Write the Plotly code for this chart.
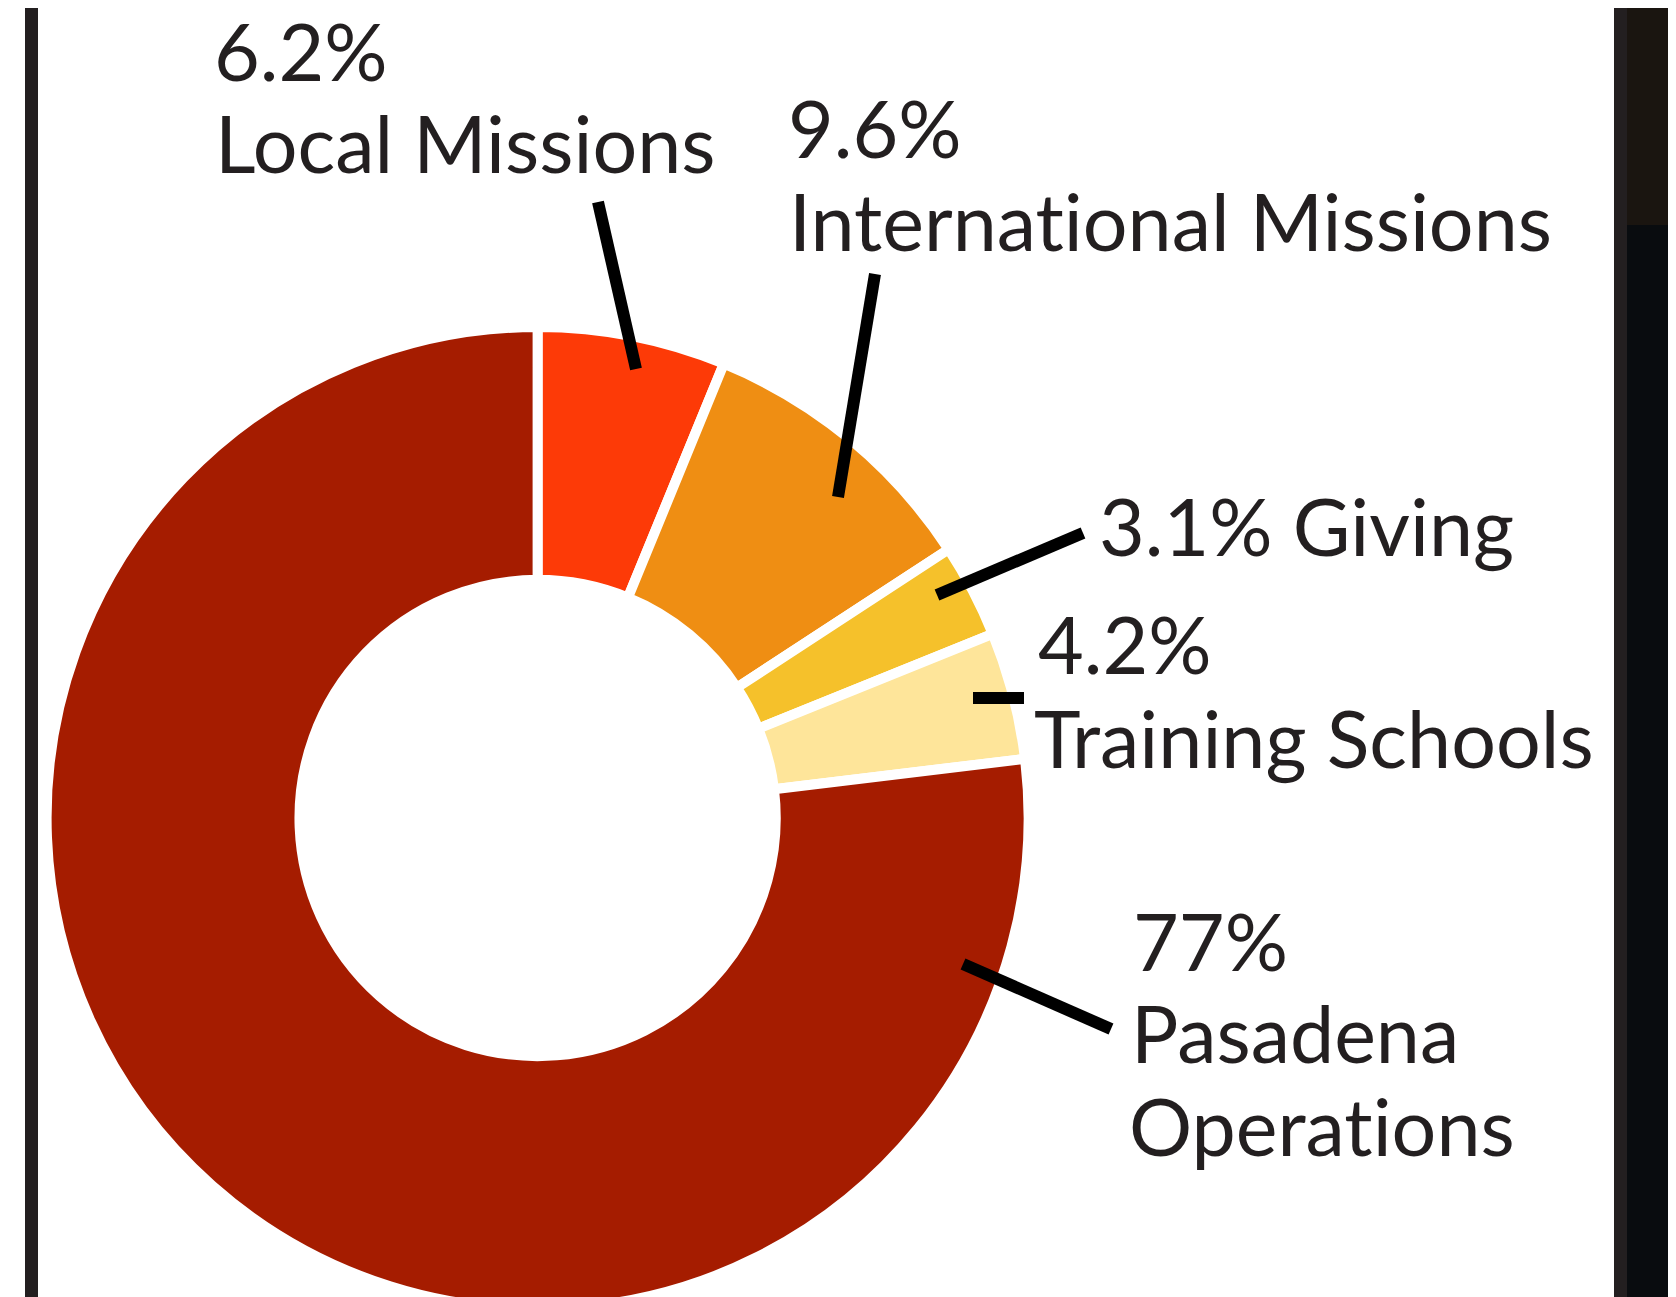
import plotly.graph_objects as go

# ---------------- data ----------------
categories = ["Local Missions", "International Missions", "Giving", "Training Schools", "Pasadena Operations"]
values = [6.2, 9.6, 3.1, 4.2, 77]
pct_labels = ["6.2%", "9.6%", "3.1%", "4.2%", "77%"]
colors = ["#FD3A07", "#EF8E13", "#F5C12B", "#FEE59A", "#A51C00"]

W, H = 1676, 1305
OFF = 8  # page offset of the plot div
TEXT = "#231F20"
FONT = "Lato"
ZWNJ = "\u200c"  # prevents the "ti" ligature


def px(x):
    return (x - OFF) / W


def py(y):
    return 1 - (y - OFF) / H


# pie geometry (page pixels, including the white stroke)
cx, cy, R = 537.6, 818.0, 491.0
dom_x = [px(cx - R), px(cx + R)]
dom_y = [py(cy + R), py(cy - R)]

fig = go.Figure(go.Pie(
    labels=categories,
    values=values,
    sort=False,
    direction="clockwise",
    rotation=0,
    hole=0.485,
    marker=dict(colors=colors, line=dict(color="white", width=10)),
    textinfo="none",
    hoverinfo="label+percent",
    showlegend=False,
    domain=dict(x=dom_x, y=dom_y),
))

shapes = []
# frame borders / dark panel
shapes.append(dict(type="rect", xref="paper", yref="paper", x0=px(25), x1=px(38), y0=0, y1=1,
                   fillcolor=TEXT, line=dict(width=0), layer="below"))
shapes.append(dict(type="rect", xref="paper", yref="paper", x0=px(1614), x1=px(1627), y0=0, y1=1,
                   fillcolor=TEXT, line=dict(width=0), layer="below"))
shapes.append(dict(type="rect", xref="paper", yref="paper", x0=px(1627), x1=1, y0=0, y1=1,
                   fillcolor="#090c0f", line=dict(width=0), layer="below"))
shapes.append(dict(type="rect", xref="paper", yref="paper", x0=px(1627), x1=1, y0=py(225), y1=1,
                   fillcolor="#1a1510", line=dict(width=0), layer="below"))

# leader lines (page pixel endpoints)
leaders = [
    ((598, 202), (636, 369)),
    ((875, 274), (838, 497)),
    ((1083, 533), (937, 595)),
    ((973, 698), (1024, 698)),
    ((963, 964), (1111, 1029)),
]
for (x0, y0), (x1, y1) in leaders:
    shapes.append(dict(type="line", xref="paper", yref="paper",
                       x0=px(x0), y0=py(y0), x1=px(x1), y1=py(y1),
                       line=dict(color="black", width=12)))

# label text lines: (text, left x, baseline y)
label_lines = [
    (pct_labels[0], 212, 80),
    ("Local Missions", 213, 172),
    (pct_labels[1], 786, 157),
    ("Interna" + "t" + ZWNJ + "ional Missions", 787, 250),
    (pct_labels[2] + " Giving", 1097, 555),
    (pct_labels[3], 1036, 673),
    ("Training Schools", 1032, 767),
    (pct_labels[4], 1131, 970),
    ("Pasadena", 1129, 1062),
    ("Opera" + "t" + ZWNJ + "ions", 1127, 1155),
]
annotations = []
for txt, lx, base in label_lines:
    annotations.append(dict(
        text=txt, xref="paper", yref="paper", x=px(lx), y=py(base - 30),
        xanchor="left", yanchor="middle", showarrow=False,
        font=dict(family=FONT, size=79, color=TEXT),
    ))

fig.update_layout(
    width=W, height=H,
    margin=dict(l=0, r=0, t=0, b=0),
    paper_bgcolor="white",
    plot_bgcolor="white",
    shapes=shapes,
    annotations=annotations,
)

fig.write_html("out.html")
